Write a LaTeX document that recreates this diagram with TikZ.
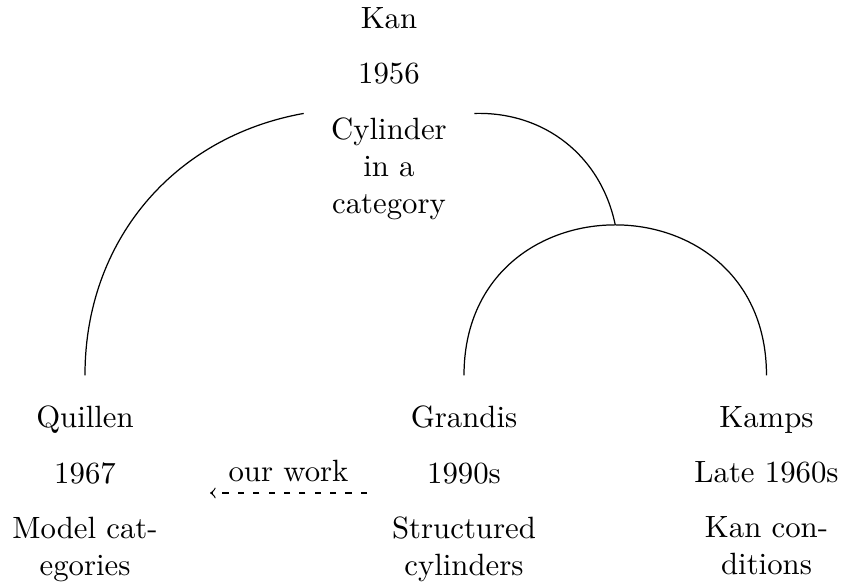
\documentclass[tikz,border=0pt]{standalone}
\tikzset{
  person/.style={text width=1.7cm, align=center, anchor=north},
}
\begin{document}
\begin{tikzpicture}
            \useasboundingbox (0, 0) rectangle (9.606, 6.682);
            \node[person] (kan) at (4.443, 6.721) {Kan\\[6pt] 1956\\[6pt] Cylinder in a category};
            \node[person] (quillen) at (0.971, 2.167) {Quillen\\[6pt] 1967\\[6pt] Model cat-\\egories};
            \node[person] (grandis) at (5.30, 2.167) {Grandis\\[6pt] 1990s\\[6pt] Structured cylinders};
            \node[person] (kamps) at (8.755, 2.167) {Kamps\\[6pt] Late 1960s\\[6pt] Kan con-\\ditions};
            \coordinate (quillen top) at ([yshift=6.5pt]quillen.north);
            \coordinate (grandis top) at ([yshift=6.5pt]grandis.north);
            \coordinate (kamps top) at ([yshift=6.5pt]kamps.north);
            \draw (grandis top) to[out=90, in=90, looseness=1.7] coordinate[pos=0.5] (join) (kamps top);
            \draw (quillen top) to[bend left=40] (kan.west);
            \draw (kan.east) to[bend left=40] (join);
            \coordinate (work start) at (4.192, 1.051);
            \coordinate (work end) at (2.399, 1.051);
            \draw[dash pattern=on 2pt off 3pt, ->] (work start) -- node[above] {our work} (work end);
\end{tikzpicture}
\end{document}
